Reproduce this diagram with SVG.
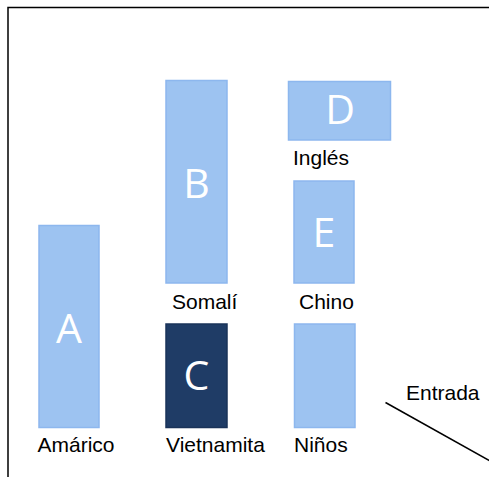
<svg xmlns="http://www.w3.org/2000/svg" width="489" height="477" viewBox="0 0 489 477">
<style>
.box{fill:#9dc3f1;stroke:#8db7ee;stroke-width:1.5}
.dark{fill:#1f3c66;stroke:#1a3359;stroke-width:1.5}
.let{font-family:"Open Sans","Liberation Sans",sans-serif;font-size:41px;fill:#ffffff;text-anchor:middle}
.lbl{font-family:"Liberation Sans",Arial,sans-serif;font-size:21px;fill:#000000}
</style>
<rect width="489" height="477" fill="#ffffff"/>
<path d="M8,477 V7.5 H489" fill="none" stroke="#000" stroke-width="1.5"/>
<g id="nodeA"><rect class="box" x="39" y="225.5" width="60" height="202"/><text class="let" x="69" y="343">A</text><text class="lbl" x="37.5" y="452">Amárico</text></g>
<g id="nodeB"><rect class="box" x="166" y="80.5" width="61" height="202.5"/><text class="let" x="196.5" y="198">B</text><text class="lbl" x="172" y="309">Somalí</text></g>
<g id="nodeC"><rect class="dark" x="166" y="324" width="61" height="103.5"/><text class="let" x="196.5" y="390">C</text><text class="lbl" x="166" y="452">Vietnamita</text></g>
<g id="nodeD"><rect class="box" x="288.5" y="81.5" width="102" height="58.5"/><text class="let" x="340" y="123.5">D</text><text class="lbl" x="293" y="164.5">Inglés</text></g>
<g id="nodeE"><rect class="box" x="294" y="181" width="60" height="102"/><text class="let" x="324" y="246.5">E</text><text class="lbl" x="299" y="309">Chino</text></g>
<g id="nodeNinos"><rect class="box" x="294.5" y="324" width="60.5" height="103.5"/><text class="lbl" x="294" y="452">Niños</text></g>
<g id="nodeEntrada"><text class="lbl" x="406" y="400">Entrada</text></g>
<g id="connectors"><line x1="385.5" y1="402.5" x2="492" y2="462" stroke="#000" stroke-width="1.5"/></g>
</svg>
